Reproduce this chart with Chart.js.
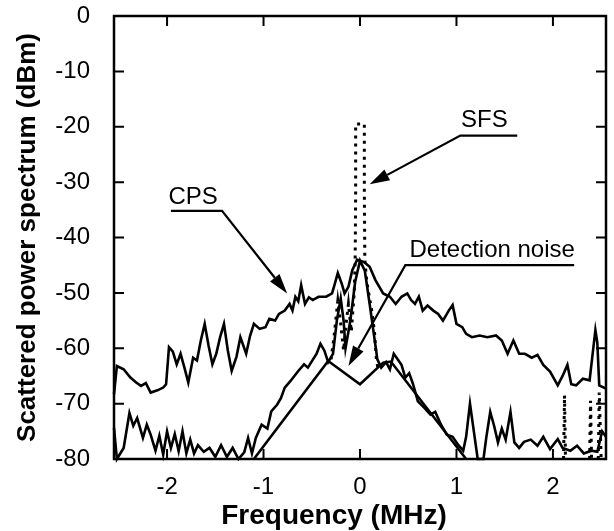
<!DOCTYPE html>
<html>
<head>
<meta charset="utf-8">
<script src="https://cdn.jsdelivr.net/npm/chart.js@4.4.1/dist/chart.umd.min.js"></script>
<style>
  html, body { margin: 0; padding: 0; background: #fff; }
  #wrap { width: 614px; height: 531px; }
</style>
</head>
<body>
<div id="wrap"><canvas id="myChart" width="614" height="531"></canvas></div>
<script>
// x ticks (MHz) and y ticks (dBm)
const freqTicks = [-2, -1, 0, 1, 2]
const freqMin = -2.55, freqMax = 2.55
const dbmMin = -80, dbmMax = 0
const xTitle = 'Frequency (MHz)'
const yTitle = 'Scattered power spectrum (dBm)'

// CPS - upper solid trace
const cpsFreq = [-2.55,-2.52,-2.45,-2.38,-2.32,-2.27,-2.22,-2.17,-2.1,-2.04,-2.01,-1.98,-1.94,-1.9,-1.86,-1.82,-1.78,-1.73,-1.69,-1.65,-1.61,-1.57,-1.53,-1.49,-1.45,-1.41,-1.37,-1.33,-1.28,-1.24,-1.18,-1.14,-1.1,-1.04,-0.98,-0.94,-0.88,-0.84,-0.78,-0.73,-0.7,-0.67,-0.64,-0.61,-0.57,-0.53,-0.49,-0.43,-0.35,-0.29,-0.27,-0.23,-0.19,-0.16,-0.12,-0.08,-0.03,0,0.04,0.1,0.16,0.24,0.31,0.37,0.43,0.49,0.53,0.57,0.61,0.65,0.7,0.76,0.81,0.86,0.92,0.96,1.0,1.06,1.1,1.16,1.24,1.32,1.41,1.47,1.53,1.59,1.65,1.71,1.78,1.84,1.9,1.97,2.05,2.1,2.15,2.19,2.24,2.31,2.38,2.44,2.46,2.48,2.55]
const cpsPower = [-68.3,-63.2,-63.8,-65.3,-66.2,-66.8,-66.3,-68,-67.6,-67.1,-66.5,-59.8,-60.6,-62.9,-61,-63.5,-66.2,-61.7,-62.2,-58.6,-55.6,-59.5,-62.9,-61,-58,-55.6,-60.4,-64.1,-61.5,-58,-61,-57.8,-55.6,-56.5,-56.2,-54.7,-55,-53.8,-53.2,-52,-53.2,-50.7,-51.5,-48.6,-52,-50.8,-51.3,-50.7,-50.7,-50.1,-48.9,-46.4,-48.3,-50.1,-48.9,-45.9,-44,-44.2,-44.4,-45.3,-47.7,-50.1,-50.7,-52,-50.7,-50.1,-51.3,-52,-50.7,-53.2,-52.3,-53.2,-53.8,-55,-53.2,-52.2,-55.6,-56.2,-57.4,-58,-57.7,-58,-57.7,-58.6,-61,-58.6,-61,-61,-61.7,-61.2,-63,-64.2,-66.7,-65,-63,-66.5,-66.7,-65.5,-65.8,-56.7,-59,-66.7,-67.3]

// lower measured trace (solid)
const lowFreq = [-2.55,-2.52,-2.45,-2.39,-2.35,-2.31,-2.25,-2.21,-2.17,-2.12,-2.08,-2.04,-2.0,-1.96,-1.92,-1.88,-1.84,-1.8,-1.76,-1.72,-1.68,-1.62,-1.56,-1.5,-1.44,-1.38,-1.32,-1.26,-1.2,-1.16,-1.12,-1.08,-1.02,-0.96,-0.92,-0.86,-0.82,-0.78,-0.72,-0.64,-0.58,-0.54,-0.45,-0.41,-0.37,-0.33,-0.28,-0.24,-0.2,-0.17,-0.15,-0.1,-0.05,0,0.05,0.1,0.14,0.18,0.22,0.27,0.31,0.35,0.39,0.43,0.47,0.51,0.55,0.6,0.67,0.73,0.78,0.84,0.9,0.96,1.02,1.07,1.1,1.14,1.18,1.22,1.28,1.31,1.35,1.39,1.43,1.47,1.51,1.56,1.6,1.65,1.7,1.77,1.84,1.9,1.97,2.05,2.1,2.18,2.25,2.32,2.4,2.46,2.51,2.55]
const lowPower = [-74.4,-80,-78,-71.7,-74,-72.6,-76.2,-73.8,-75.6,-78.5,-75.8,-79.2,-75,-78,-75.5,-78.6,-75,-79,-76.5,-79,-77.5,-78.7,-78,-79.6,-77.5,-79.6,-78,-80,-78.8,-76.2,-79,-76.2,-73.8,-74.5,-71.4,-70.2,-69,-67.1,-65.9,-64.1,-62.9,-63.5,-61,-59.2,-60.4,-62.5,-61,-55,-51,-55,-60,-55,-48,-44.2,-46,-52,-57,-62,-63.5,-62.5,-63.8,-61,-62,-63,-65.3,-64.5,-66.5,-69.6,-70.8,-72,-71.5,-73.8,-75.6,-76,-77.5,-78.5,-76,-70,-75,-80,-80,-76,-71.5,-74,-77,-74.5,-76.5,-71.5,-77,-78,-76.9,-76.5,-77.6,-76,-78.2,-76.4,-78,-78.5,-77.6,-79,-78.5,-78.7,-75,-76]

// SFS - dotted trace (null = gap)
const sfsFreq = [-0.3,-0.27,-0.23,-0.2,-0.17,-0.14,-0.12,-0.09,-0.06,-0.05,-0.045,-0.045,0.045,0.045,0.05,0.07,0.12,0.15,0.17,0.19,0.2,2.11,2.12,2.13,2.2,2.38,2.39,2.4,2.43,2.47,2.48,2.5]
const sfsPower = [-62,-58,-51.5,-55.6,-60.4,-55,-52,-57,-50,-44,-32,-19.5,-19.5,-32,-44,-48,-53,-57,-62,-64,null,-80,-68.5,-80,null,-80,-69.5,-80,null,-80,-68,-80]

// detection noise - smooth solid
const noiseFreq = [-1.1, -0.33, 0, 0.24, 0.32, 1.1]
const noisePower = [-80, -62.3, -66.5, -62.6, -62.4, -80]

const pts = (xs, ys) => xs.map((x, i) => ({ x: x, y: ys[i] }))

const labels = [
    { text: 'SFS', x: 1.29, y: -18.8, from: [1.63, -21.6], bend: [1.04, -21.6], tip: [0.1, -30.4] },
    { text: 'CPS', x: -1.73, y: -32.8, from: [-1.96, -35.2], bend: [-1.43, -35.2], tip: [-0.755, -50.1] },
    { text: 'Detection noise', x: 1.37, y: -42.3, from: [2.22, -45], bend: [0.47, -45], tip: [-0.12, -63.2] }
]

const frame = {
    id: 'frame',
    afterDraw(chart) {
        const { ctx, chartArea: a, scales: { x, y } } = chart
        ctx.save()
        ctx.strokeStyle = '#000'
        ctx.lineWidth = 2.5
        ctx.strokeRect(a.left, a.top, a.right - a.left, a.bottom - a.top)
        ctx.lineWidth = 2
        const tl = 10
        ctx.beginPath()
        freqTicks.forEach(v => {
            const px = x.getPixelForValue(v)
            ctx.moveTo(px, a.bottom); ctx.lineTo(px, a.bottom - tl)
            ctx.moveTo(px, a.top); ctx.lineTo(px, a.top + tl)
        })
        y.ticks.forEach(t => {
            const py = y.getPixelForValue(t.value)
            ctx.moveTo(a.left, py); ctx.lineTo(a.left + tl, py)
            ctx.moveTo(a.right, py); ctx.lineTo(a.right - tl, py)
        })
        ctx.stroke()

        ctx.fillStyle = '#000'
        ctx.textAlign = 'center'
        ctx.textBaseline = 'middle'

        // x axis title (sits a bit left of centre in the original)
        ctx.font = 'bold 28px "Liberation Sans", Arial, sans-serif'
        ctx.fillText(xTitle, 334, 516)

        // labels with arrows
        ctx.font = '24px "Liberation Sans", Arial, sans-serif'
        labels.forEach(l => {
            ctx.fillText(l.text, x.getPixelForValue(l.x), y.getPixelForValue(l.y))
            const p0 = [x.getPixelForValue(l.from[0]), y.getPixelForValue(l.from[1])]
            const p1 = [x.getPixelForValue(l.bend[0]), y.getPixelForValue(l.bend[1])]
            const p2 = [x.getPixelForValue(l.tip[0]), y.getPixelForValue(l.tip[1])]
            const ang = Math.atan2(p2[1] - p1[1], p2[0] - p1[0])
            const hl = 20, hw = 6
            const bx = p2[0] - hl * Math.cos(ang), by = p2[1] - hl * Math.sin(ang)
            ctx.lineWidth = 2.2
            ctx.beginPath()
            ctx.moveTo(p0[0], p0[1]); ctx.lineTo(p1[0], p1[1]); ctx.lineTo(bx, by)
            ctx.stroke()
            ctx.beginPath()
            ctx.moveTo(p2[0], p2[1])
            ctx.lineTo(bx - hw * Math.sin(ang), by + hw * Math.cos(ang))
            ctx.lineTo(bx + hw * Math.sin(ang), by - hw * Math.cos(ang))
            ctx.closePath()
            ctx.fill()
        })
        ctx.restore()
    }
}

const ctx = document.getElementById('myChart')
new Chart(ctx, {
    type: 'line',
    data: {
        datasets: [
            { label: 'CPS', data: pts(cpsFreq, cpsPower), borderColor: '#000', borderWidth: 2.6 },
            { label: 'Measured', data: pts(lowFreq, lowPower), borderColor: '#000', borderWidth: 2.6 },
            { label: 'Detection noise', data: pts(noiseFreq, noisePower), borderColor: '#000', borderWidth: 2.6 },
            { label: 'SFS', data: pts(sfsFreq, sfsPower), borderColor: '#000', borderWidth: 3, borderDash: [3, 5], spanGaps: false }
        ]
    },
    options: {
        responsive: false,
        animation: false,
        clip: false,
        layout: { padding: { left: 0, right: 8, top: 16, bottom: 0 } },
        elements: { point: { radius: 0 }, line: { tension: 0, borderJoinStyle: 'miter' } },
        plugins: { legend: { display: false }, tooltip: { enabled: false } },
        scales: {
            x: {
                type: 'linear',
                min: freqMin, max: freqMax,
                afterBuildTicks: s => { s.ticks = freqTicks.map(v => ({ value: v })) },
                afterFit: s => { s.height = 72; s.paddingLeft = 0; s.paddingRight = 0 },
                grid: { display: false, drawTicks: false },
                border: { display: false },
                ticks: { padding: 14, color: '#000', font: { family: '"Liberation Sans", Arial', size: 24 }, maxRotation: 0 },
                title: { display: false }
            },
            y: {
                min: dbmMin, max: dbmMax,
                ticks: { stepSize: 10, padding: 24, color: '#000', font: { family: '"Liberation Sans", Arial', size: 24 } },
                afterFit: s => { s.width = 114; s.paddingTop = 0; s.paddingBottom = 0 },
                grid: { display: false, drawTicks: false },
                border: { display: false },
                title: { display: true, text: yTitle, color: '#000', padding: { top: 12, bottom: 0 }, font: { family: '"Liberation Sans", Arial', size: 26, weight: 'bold', lineHeight: 1.2 } }
            }
        }
    },
    plugins: [frame]
})
</script>
</body>
</html>
